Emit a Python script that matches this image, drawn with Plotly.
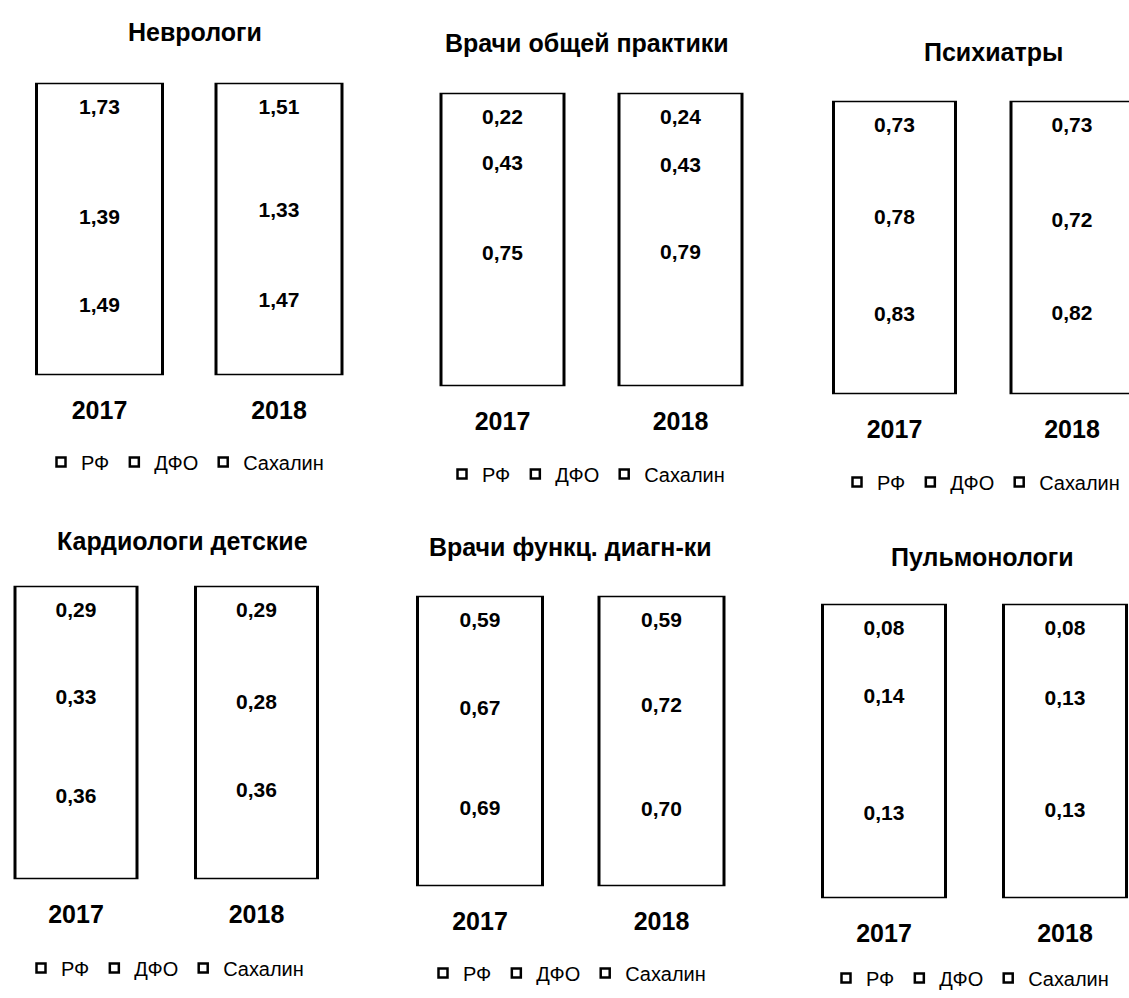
import plotly.graph_objects as go

W, H = 1129, 998

years = ["2017", "2018"]
series_names = ["РФ", "ДФО", "Сахалин"]
panel_titles = [
    "Неврологи",
    "Врачи общей практики",
    "Психиатры",
    "Кардиологи детские",
    "Врачи функц. диагн-ки",
    "Пульмонологи",
]

# staff per 10 000 population, 2017 and 2018
neuro_rf, neuro_dfo, neuro_sakh = [1.49, 1.47], [1.39, 1.33], [1.73, 1.51]
gp_rf, gp_dfo, gp_sakh = [0.75, 0.79], [0.43, 0.43], [0.22, 0.24]
psych_rf, psych_dfo, psych_sakh = [0.83, 0.82], [0.78, 0.72], [0.73, 0.73]
cardio_rf, cardio_dfo, cardio_sakh = [0.36, 0.36], [0.33, 0.28], [0.29, 0.29]
func_rf, func_dfo, func_sakh = [0.69, 0.70], [0.67, 0.72], [0.59, 0.59]
pulmo_rf, pulmo_dfo, pulmo_sakh = [0.13, 0.13], [0.14, 0.13], [0.08, 0.08]

panel_values = [
    (neuro_rf, neuro_dfo, neuro_sakh),
    (gp_rf, gp_dfo, gp_sakh),
    (psych_rf, psych_dfo, psych_sakh),
    (cardio_rf, cardio_dfo, cardio_sakh),
    (func_rf, func_dfo, func_sakh),
    (pulmo_rf, pulmo_dfo, pulmo_sakh),
]

# placement of each small chart, in page pixels
panel_boxes = [
    dict(c1=99.5, c2=279, bw=126, top=83, bottom=376, title=(195, 32), legend=(185, 463)),
    dict(c1=502.5, c2=680.5, bw=123, top=93, bottom=387, title=(587, 43), legend=(586, 475)),
    dict(c1=894.5, c2=1072, bw=122, top=101, bottom=395, title=(993, 52), legend=(981, 483)),
    dict(c1=76, c2=256.5, bw=122, top=587, bottom=881, title=(182, 542), legend=(165, 970)),
    dict(c1=480, c2=661.5, bw=125, top=597, bottom=888, title=(570, 548), legend=(567, 975)),
    dict(c1=884, c2=1065, bw=123, top=605, bottom=900, title=(982, 558), legend=(970, 980)),
]

FONT = "Liberation Sans, Arial, sans-serif"
LABEL_DROP = 8.9  # distance from a segment's top to its value label, % of bar height

fig = go.Figure()
shapes, annotations, axes = [], [], {}

for k, (vals, box, title) in enumerate(zip(panel_values, panel_boxes, panel_titles)):
    sfx = "" if k == 0 else str(k + 1)
    xa, ya, leg = "x" + sfx, "y" + sfx, "legend" + sfx
    gap = box["c2"] - box["c1"]
    left = max(0.0, box["c1"] - 0.6 * gap)
    right = min(float(W), box["c2"] + 0.6 * gap)
    width = box["bw"] / gap

    totals = [sum(v[i] for v in vals) for i in range(len(years))]
    cum = [0.0] * len(years)
    for name, v in zip(series_names, vals):
        fig.add_trace(go.Bar(
            x=years, y=v, name=name, width=width,
            marker=dict(color="white", line=dict(width=0)),
            xaxis=xa, yaxis=ya, showlegend=False,
        ))
        cum = [c + 100 * a / t for c, a, t in zip(cum, v, totals)]
        fig.add_trace(go.Scatter(
            x=years, y=[c - LABEL_DROP for c in cum], mode="text",
            text=[f"{a:.2f}".replace(".", ",") for a in v],
            textfont=dict(family=FONT, size=21, color="black", weight="bold"),
            xaxis=xa, yaxis=ya, showlegend=False, hoverinfo="skip",
        ))
        fig.add_trace(go.Scatter(
            x=[None], y=[None], mode="markers", name=name,
            marker=dict(symbol="square", size=9, color="white",
                        line=dict(color="black", width=2.5)),
            xaxis=xa, yaxis=ya, legend=leg,
        ))

    for i in range(len(years)):
        shapes.append(dict(
            type="rect", xref=xa, yref=ya,
            x0=i - width / 2, x1=i + width / 2, y0=0, y1=100,
            line=dict(color="black", width=3), layer="above",
        ))

    annotations.append(dict(
        text=title, xref="paper", yref="paper",
        x=box["title"][0] / W, y=1 - box["title"][1] / H,
        xanchor="center", yanchor="middle", showarrow=False,
        font=dict(family=FONT, size=25, color="black", weight="bold"),
    ))

    axes["xaxis" + sfx] = dict(
        domain=[left / W, right / W], type="category",
        range=[(left - box["c1"]) / gap, (right - box["c1"]) / gap],
        showgrid=False, zeroline=False, showline=False, ticks="",
        tickfont=dict(family=FONT, size=25, color="black", weight="bold"),
        ticklabelstandoff=18, anchor=ya, fixedrange=True,
    )
    axes["yaxis" + sfx] = dict(
        domain=[1 - box["bottom"] / H, 1 - box["top"] / H],
        range=[0, 100], visible=False, anchor=xa, fixedrange=True,
    )
    axes[leg] = dict(
        orientation="h", x=box["legend"][0] / W, y=1 - box["legend"][1] / H,
        xanchor="center", yanchor="middle", bgcolor="rgba(0,0,0,0)",
        traceorder="normal", itemwidth=30,
        font=dict(family=FONT, size=20, color="black"),
    )

fig.update_layout(
    width=W, height=H,
    margin=dict(l=0, r=0, t=0, b=0),
    paper_bgcolor="white", plot_bgcolor="white",
    barmode="stack", barnorm="percent",
    shapes=shapes, annotations=annotations,
    **axes,
)

fig.write_html("out.html")
